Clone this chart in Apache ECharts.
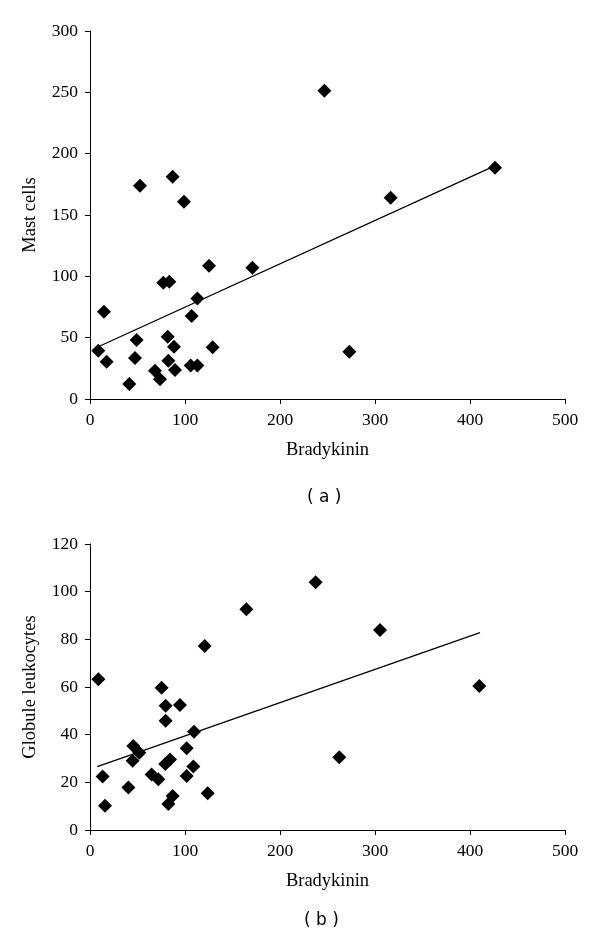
<!DOCTYPE html>
<html>
<head>
<meta charset="utf-8">
<script src="https://cdn.jsdelivr.net/npm/echarts@6/dist/echarts.min.js"></script>
<style>
  html, body { margin: 0; padding: 0; background: #fff; }
  #chart { width: 600px; height: 942px; }
</style>
</head>
<body>
<div id="chart"></div>
<script>
// Panel (a): Bradykinin vs Mast cells
const bradyA = [8.7, 14.7, 17.5, 41.4, 47.4, 49.1, 52.6, 68.4, 73.7, 77.2, 83.5, 81.8, 88.4, 82.5, 89.5, 87.0, 98.9, 107.0, 113.0, 106.0, 113.0, 125.3, 129.1, 170.9, 246.7, 316.5, 426.3, 273.0];
const mastCells = [39.4, 71.2, 30.4, 12.2, 33.4, 48.1, 173.9, 23.1, 16.0, 94.8, 95.6, 50.8, 42.6, 31.2, 23.6, 181.2, 160.8, 67.7, 82.0, 27.4, 27.4, 108.7, 42.1, 107.0, 251.3, 164.1, 188.6, 38.6];
const trendAx = [8.7, 426.0];
const trendAy = [42.6, 190.0];

// Panel (b): Bradykinin vs Globule leukocytes
const bradyB = [8.8, 13.3, 15.8, 40.4, 44.9, 45.6, 51.9, 64.9, 71.9, 75.4, 79.6, 79.6, 79.3, 84.2, 87.0, 82.5, 94.7, 101.8, 101.8, 108.8, 109.5, 120.7, 123.9, 164.6, 237.5, 305.3, 409.8, 262.4];
const globLeuko = [63.2, 22.4, 10.2, 17.8, 29.1, 35.2, 32.4, 23.3, 21.3, 59.7, 52.1, 45.8, 27.7, 29.6, 14.3, 10.9, 52.4, 34.3, 22.7, 26.6, 41.2, 77.2, 15.4, 92.6, 103.9, 83.9, 60.4, 30.5];
const trendBx = [7.7, 410.5];
const trendBy = [26.6, 82.8];

const xTicks = [0, 100, 200, 300, 400, 500];
const yTicksA = [0, 50, 100, 150, 200, 250, 300];
const yTicksB = [0, 20, 40, 60, 80, 100, 120];

const pair = (xs, ys) => xs.map((x, i) => [x, ys[i]]);

const serif = 'Liberation Serif';
const labelStyle = { fontFamily: serif, fontSize: 17.5, color: '#000' };
const axisCommon = {
  axisLine: { show: true, onZero: false, lineStyle: { color: '#000', width: 1 } },
  axisTick: { show: true, inside: false, length: 5, lineStyle: { color: '#000', width: 1 } },
  splitLine: { show: false },
  nameTextStyle: { fontFamily: serif, fontSize: 18.5, color: '#000' }
};

function xAxisDef(gridIndex) {
  return Object.assign({}, axisCommon, {
    type: 'value', gridIndex, min: xTicks[0], max: xTicks[xTicks.length - 1],
    interval: xTicks[1] - xTicks[0],
    name: 'Bradykinin', nameLocation: 'middle', nameGap: 42,
    axisLabel: Object.assign({ margin: 12 }, labelStyle)
  });
}
function yAxisDef(gridIndex, ticks, name) {
  return Object.assign({}, axisCommon, {
    type: 'value', gridIndex, min: ticks[0], max: ticks[ticks.length - 1],
    interval: ticks[1] - ticks[0],
    name, nameLocation: 'middle', nameGap: 50,
    axisLabel: Object.assign({ margin: 12 }, labelStyle)
  });
}

const capStyle = { fontFamily: 'DejaVu Sans', fontSize: 17, fontWeight: 'normal', color: '#000' };

const chart = echarts.init(document.getElementById('chart'), null, { renderer: 'canvas' });
chart.setOption({
  backgroundColor: '#fff',
  animation: false,
  title: [
    { text: '( a )', left: 302, top: 484, textStyle: capStyle },
    { text: '( b )', left: 299, top: 907, textStyle: capStyle }
  ],
  grid: [
    { left: 90, right: 35, top: 31, height: 368 },
    { left: 90, right: 35, top: 544, height: 286 }
  ],
  xAxis: [xAxisDef(0), xAxisDef(1)],
  yAxis: [yAxisDef(0, yTicksA, 'Mast cells'), yAxisDef(1, yTicksB, 'Globule leukocytes')],
  series: [
    { type: 'scatter', xAxisIndex: 0, yAxisIndex: 0, symbol: 'diamond', symbolSize: 14,
      itemStyle: { color: '#000', opacity: 1 }, data: pair(bradyA, mastCells) },
    { type: 'line', xAxisIndex: 0, yAxisIndex: 0, showSymbol: false, symbol: 'none',
      lineStyle: { color: '#000', width: 1.3 }, data: pair(trendAx, trendAy) },
    { type: 'scatter', xAxisIndex: 1, yAxisIndex: 1, symbol: 'diamond', symbolSize: 14,
      itemStyle: { color: '#000', opacity: 1 }, data: pair(bradyB, globLeuko) },
    { type: 'line', xAxisIndex: 1, yAxisIndex: 1, showSymbol: false, symbol: 'none',
      lineStyle: { color: '#000', width: 1.3 }, data: pair(trendBx, trendBy) }
  ]
});
</script>
</body>
</html>
